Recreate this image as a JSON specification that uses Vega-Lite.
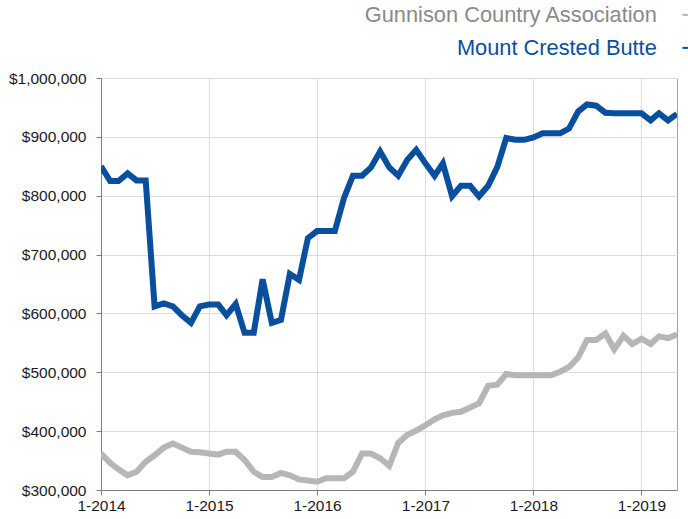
{
  "$schema": "https://vega.github.io/schema/vega-lite/v6.json",
  "autosize": {"type": "none"},
  "padding": {"left": 101, "top": 78, "right": 11, "bottom": 29},
  "width": 576,
  "height": 412,
  "background": "white",
  "config": {
    "view": {"stroke": "#a3a3a3", "strokeWidth": 1},
    "font": "Liberation Sans",
    "axis": {
      "labelFont": "Liberation Sans",
      "labelFontSize": 15.5,
      "labelColor": "#1a1a1a",
      "domainColor": "#7d7d7d",
      "tickColor": "#7d7d7d",
      "tickSize": 5,
      "gridColor": "#dcdcdc",
      "gridWidth": 1,
      "title": null
    }
  },
  "data": {
    "values": [
      {"date": "2014-01-01", "Mount Crested Butte": 850000, "Gunnison Country Association": 362000},
      {"date": "2014-02-01", "Mount Crested Butte": 825000, "Gunnison Country Association": 346000},
      {"date": "2014-03-01", "Mount Crested Butte": 825000, "Gunnison Country Association": 335000},
      {"date": "2014-04-01", "Mount Crested Butte": 838000, "Gunnison Country Association": 325000},
      {"date": "2014-05-01", "Mount Crested Butte": 826000, "Gunnison Country Association": 331000},
      {"date": "2014-06-01", "Mount Crested Butte": 826000, "Gunnison Country Association": 348000},
      {"date": "2014-07-01", "Mount Crested Butte": 612000, "Gunnison Country Association": 359000},
      {"date": "2014-08-01", "Mount Crested Butte": 617000, "Gunnison Country Association": 372000},
      {"date": "2014-09-01", "Mount Crested Butte": 612000, "Gunnison Country Association": 379000},
      {"date": "2014-10-01", "Mount Crested Butte": 597000, "Gunnison Country Association": 372000},
      {"date": "2014-11-01", "Mount Crested Butte": 584000, "Gunnison Country Association": 365000},
      {"date": "2014-12-01", "Mount Crested Butte": 612000, "Gunnison Country Association": 364000},
      {"date": "2015-01-01", "Mount Crested Butte": 615000, "Gunnison Country Association": 362000},
      {"date": "2015-02-01", "Mount Crested Butte": 615000, "Gunnison Country Association": 360000},
      {"date": "2015-03-01", "Mount Crested Butte": 597000, "Gunnison Country Association": 365000},
      {"date": "2015-04-01", "Mount Crested Butte": 616000, "Gunnison Country Association": 365000},
      {"date": "2015-05-01", "Mount Crested Butte": 567000, "Gunnison Country Association": 351000},
      {"date": "2015-06-01", "Mount Crested Butte": 567000, "Gunnison Country Association": 331000},
      {"date": "2015-07-01", "Mount Crested Butte": 658000, "Gunnison Country Association": 322000},
      {"date": "2015-08-01", "Mount Crested Butte": 584000, "Gunnison Country Association": 322000},
      {"date": "2015-09-01", "Mount Crested Butte": 589000, "Gunnison Country Association": 329000},
      {"date": "2015-10-01", "Mount Crested Butte": 667000, "Gunnison Country Association": 325000},
      {"date": "2015-11-01", "Mount Crested Butte": 657000, "Gunnison Country Association": 318000},
      {"date": "2015-12-01", "Mount Crested Butte": 728000, "Gunnison Country Association": 316000},
      {"date": "2016-01-01", "Mount Crested Butte": 740000, "Gunnison Country Association": 314000},
      {"date": "2016-02-01", "Mount Crested Butte": 740000, "Gunnison Country Association": 320000},
      {"date": "2016-03-01", "Mount Crested Butte": 740000, "Gunnison Country Association": 320000},
      {"date": "2016-04-01", "Mount Crested Butte": 796000, "Gunnison Country Association": 320000},
      {"date": "2016-05-01", "Mount Crested Butte": 834000, "Gunnison Country Association": 331000},
      {"date": "2016-06-01", "Mount Crested Butte": 834000, "Gunnison Country Association": 362000},
      {"date": "2016-07-01", "Mount Crested Butte": 848000, "Gunnison Country Association": 362000},
      {"date": "2016-08-01", "Mount Crested Butte": 875000, "Gunnison Country Association": 354000},
      {"date": "2016-09-01", "Mount Crested Butte": 848000, "Gunnison Country Association": 341000},
      {"date": "2016-10-01", "Mount Crested Butte": 834000, "Gunnison Country Association": 380000},
      {"date": "2016-11-01", "Mount Crested Butte": 861000, "Gunnison Country Association": 394000},
      {"date": "2016-12-01", "Mount Crested Butte": 878000, "Gunnison Country Association": 401000},
      {"date": "2017-01-01", "Mount Crested Butte": 855000, "Gunnison Country Association": 410000},
      {"date": "2017-02-01", "Mount Crested Butte": 834000, "Gunnison Country Association": 420000},
      {"date": "2017-03-01", "Mount Crested Butte": 855000, "Gunnison Country Association": 427000},
      {"date": "2017-04-01", "Mount Crested Butte": 799000, "Gunnison Country Association": 431000},
      {"date": "2017-05-01", "Mount Crested Butte": 817000, "Gunnison Country Association": 433000},
      {"date": "2017-06-01", "Mount Crested Butte": 817000, "Gunnison Country Association": 440000},
      {"date": "2017-07-01", "Mount Crested Butte": 799000, "Gunnison Country Association": 447000},
      {"date": "2017-08-01", "Mount Crested Butte": 817000, "Gunnison Country Association": 477000},
      {"date": "2017-09-01", "Mount Crested Butte": 849000, "Gunnison Country Association": 479000},
      {"date": "2017-10-01", "Mount Crested Butte": 898000, "Gunnison Country Association": 497000},
      {"date": "2017-11-01", "Mount Crested Butte": 895000, "Gunnison Country Association": 495000},
      {"date": "2017-12-01", "Mount Crested Butte": 895000, "Gunnison Country Association": 495000},
      {"date": "2018-01-01", "Mount Crested Butte": 899000, "Gunnison Country Association": 495000},
      {"date": "2018-02-01", "Mount Crested Butte": 906000, "Gunnison Country Association": 495000},
      {"date": "2018-03-01", "Mount Crested Butte": 906000, "Gunnison Country Association": 495000},
      {"date": "2018-04-01", "Mount Crested Butte": 906000, "Gunnison Country Association": 501000},
      {"date": "2018-05-01", "Mount Crested Butte": 914000, "Gunnison Country Association": 509000},
      {"date": "2018-06-01", "Mount Crested Butte": 943000, "Gunnison Country Association": 525000},
      {"date": "2018-07-01", "Mount Crested Butte": 955000, "Gunnison Country Association": 555000},
      {"date": "2018-08-01", "Mount Crested Butte": 953000, "Gunnison Country Association": 555000},
      {"date": "2018-09-01", "Mount Crested Butte": 941000, "Gunnison Country Association": 566000},
      {"date": "2018-10-01", "Mount Crested Butte": 940000, "Gunnison Country Association": 539000},
      {"date": "2018-11-01", "Mount Crested Butte": 940000, "Gunnison Country Association": 562000},
      {"date": "2018-12-01", "Mount Crested Butte": 940000, "Gunnison Country Association": 548000},
      {"date": "2019-01-01", "Mount Crested Butte": 940000, "Gunnison Country Association": 557000},
      {"date": "2019-02-01", "Mount Crested Butte": 928000, "Gunnison Country Association": 548000},
      {"date": "2019-03-01", "Mount Crested Butte": 940000, "Gunnison Country Association": 561000},
      {"date": "2019-04-01", "Mount Crested Butte": 928000, "Gunnison Country Association": 558000},
      {"date": "2019-05-01", "Mount Crested Butte": 939000, "Gunnison Country Association": 564000}
    ]
  },
  "transform": [
    {"fold": ["Gunnison Country Association", "Mount Crested Butte"], "as": ["series", "price"]}
  ],
  "mark": {"type": "line", "strokeWidth": 6, "clip": true},
  "encoding": {
    "x": {
      "field": "date",
      "type": "temporal",
      "scale": {
        "type": "utc",
        "domain": [
          {"year": 2014, "month": 1, "date": 1, "utc": true},
          {"year": 2019, "month": 5, "date": 1, "utc": true}
        ]
      },
      "axis": {
        "values": [
          {"year": 2014, "month": 1, "date": 1, "utc": true},
          {"year": 2015, "month": 1, "date": 1, "utc": true},
          {"year": 2016, "month": 1, "date": 1, "utc": true},
          {"year": 2017, "month": 1, "date": 1, "utc": true},
          {"year": 2018, "month": 1, "date": 1, "utc": true},
          {"year": 2019, "month": 1, "date": 1, "utc": true}
        ],
        "labelExpr": "(utcmonth(datum.value) + 1) + '-' + utcyear(datum.value)",
        "labelPadding": 3,
        "labelFlush": false,
        "labelOverlap": false
      }
    },
    "y": {
      "field": "price",
      "type": "quantitative",
      "scale": {"domain": [300000, 1000000], "nice": false, "zero": false},
      "axis": {
        "values": [300000, 400000, 500000, 600000, 700000, 800000, 900000, 1000000],
        "format": "$,.0f",
        "labelPadding": 10
      }
    },
    "color": {
      "field": "series",
      "type": "nominal",
      "scale": {
        "domain": ["Gunnison Country Association", "Mount Crested Butte"],
        "range": ["#b5b6b5", "#0a4f9e"]
      },
      "legend": {
        "orient": "none",
        "legendX": 578,
        "legendY": -74,
        "title": null,
        "symbolType": "stroke",
        "symbolSize": 225,
        "symbolStrokeWidth": 2,
        "labelAlign": "right",
        "labelOffset": -44,
        "labelFont": "Liberation Sans",
        "labelFontSize": 21.8,
        "labelLimit": 500,
        "rowPadding": 10,
        "padding": 0,
        "encode": {
          "labels": {
            "update": {
              "fill": {"signal": "datum.value === 'Mount Crested Butte' ? '#0a4f9e' : '#8a8a8a'"}
            }
          },
          "symbols": {
            "update": {
              "stroke": {"signal": "datum.value === 'Mount Crested Butte' ? '#0a4f9e' : '#999999'"}
            }
          }
        }
      }
    }
  }
}
